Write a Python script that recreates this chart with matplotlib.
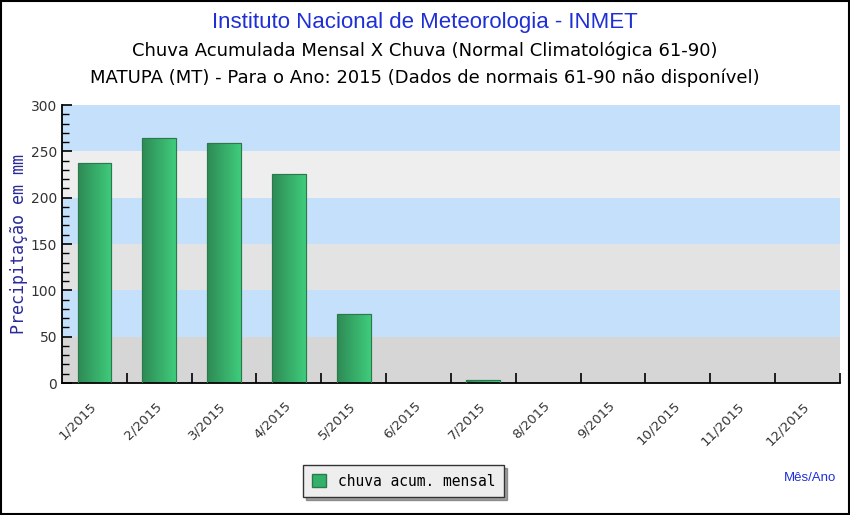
import numpy as np
import matplotlib.pyplot as plt
import matplotlib.transforms as mtransforms
from matplotlib.patches import Rectangle
from matplotlib.colors import LinearSegmentedColormap

# dados
meses = ['1/2015', '2/2015', '3/2015', '4/2015', '5/2015', '6/2015',
         '7/2015', '8/2015', '9/2015', '10/2015', '11/2015', '12/2015']
chuva = [237, 264, 259, 226, 74, 0, 3.5, 0, 0, 0, 0, 0]

azul_titulo = '#1f2fd6'
azul_eixo = '#2a2a9a'

fig = plt.figure(figsize=(8.5, 5.15), dpi=100)
fig.patch.set_facecolor('white')
fig.add_artist(Rectangle((0.001, 0.001), 0.998, 0.997, transform=fig.transFigure,
                         fill=False, edgecolor='black', lw=1.5))

ax = fig.add_axes([0.073, 0.2563, 0.915, 0.5398])

x = np.arange(len(meses))
# faixas de fundo
faixas = ['#d6d6d6', '#c5e0fa', '#e3e3e3', '#c5e0fa', '#eeeeee', '#c5e0fa']
for i, c in enumerate(faixas):
    ax.axhspan(i * 50, (i + 1) * 50, color=c, zorder=0, lw=0)

barras = ax.bar(x, chuva, width=0.52, color='#33b06a', edgecolor='#2c7a4c',
                lw=0.8, zorder=2)

# degradê nas barras
grad = np.linspace(0, 1, 64).reshape(1, -1)
cmap = LinearSegmentedColormap.from_list('verde', ['#2e8a55', '#3fcc7c'])
for b in barras:
    if b.get_height() <= 0:
        continue
    im = ax.imshow(grad, cmap=cmap, aspect='auto', zorder=2.5,
                   extent=[b.get_x(), b.get_x() + b.get_width(), 0, b.get_height()])
    im.set_clip_path(b)
    ax.add_patch(Rectangle((b.get_x(), 0), b.get_width(), b.get_height(),
                           fill=False, edgecolor='#2c7a4c', lw=0.8, zorder=3))

ax.set_xlim(-0.5, len(meses) - 0.5)
ax.set_ylim(0, 300)
ax.set_yticks(range(0, 301, 50))
ax.set_yticks(range(0, 301, 10), minor=True)
ax.set_xticks(x + 0.5, minor=True)
ax.set_xticks(x)
ax.set_xticklabels(meses, rotation=45, ha='right', va='center', rotation_mode='anchor',
                   fontsize=9.5, color='#333333')
desloc = mtransforms.ScaledTranslation(-12 / 72, 0, fig.dpi_scale_trans)
for t in ax.get_xticklabels():
    t.set_transform(t.get_transform() + desloc)
ax.tick_params(axis='x', which='major', length=0, pad=15)
ax.tick_params(axis='x', which='minor', direction='in', length=7, width=1.2)
ax.tick_params(axis='y', which='major', direction='in', length=7, width=1.2,
               labelsize=10, labelcolor='#333333')
ax.tick_params(axis='y', which='minor', direction='in', length=5, width=1)
for s in ['top', 'right']:
    ax.spines[s].set_visible(False)
for s in ['left', 'bottom']:
    ax.spines[s].set_linewidth(1.3)

ax.set_ylabel('Precipitação em mm', family='DejaVu Sans Mono', fontsize=12,
              color=azul_eixo, labelpad=2)

fig.text(0.5, 0.957, 'Instituto Nacional de Meteorologia - INMET', ha='center',
         va='center', fontsize=16, color=azul_titulo, family='Liberation Sans')
fig.text(0.5, 0.902, 'Chuva Acumulada Mensal X Chuva (Normal Climatológica 61-90)',
         ha='center', va='center', fontsize=13, family='DejaVu Sans')
fig.text(0.5, 0.849, 'MATUPA (MT) - Para o Ano: 2015 (Dados de normais 61-90 não disponível)',
         ha='center', va='center', fontsize=13, family='DejaVu Sans')
fig.text(0.953, 0.072, 'Mês/Ano', ha='center', va='center', fontsize=9.5,
         color=azul_titulo, family='Liberation Sans')

leg = fig.legend(handles=[Rectangle((0, 0), 1, 1, facecolor='#33b06a', edgecolor='#2c7a4c')],
                 labels=['chuva acum. mensal'], loc='center', bbox_to_anchor=(0.4747, 0.066),
                 prop={'family': 'DejaVu Sans Mono', 'size': 10.5}, fancybox=False,
                 shadow=True, framealpha=1, handlelength=1, handleheight=1,
                 borderpad=0.6)
leg.get_frame().set_edgecolor('#333333')
leg.get_frame().set_facecolor('#eeeeee')

fig.savefig('out.png', dpi=100)
